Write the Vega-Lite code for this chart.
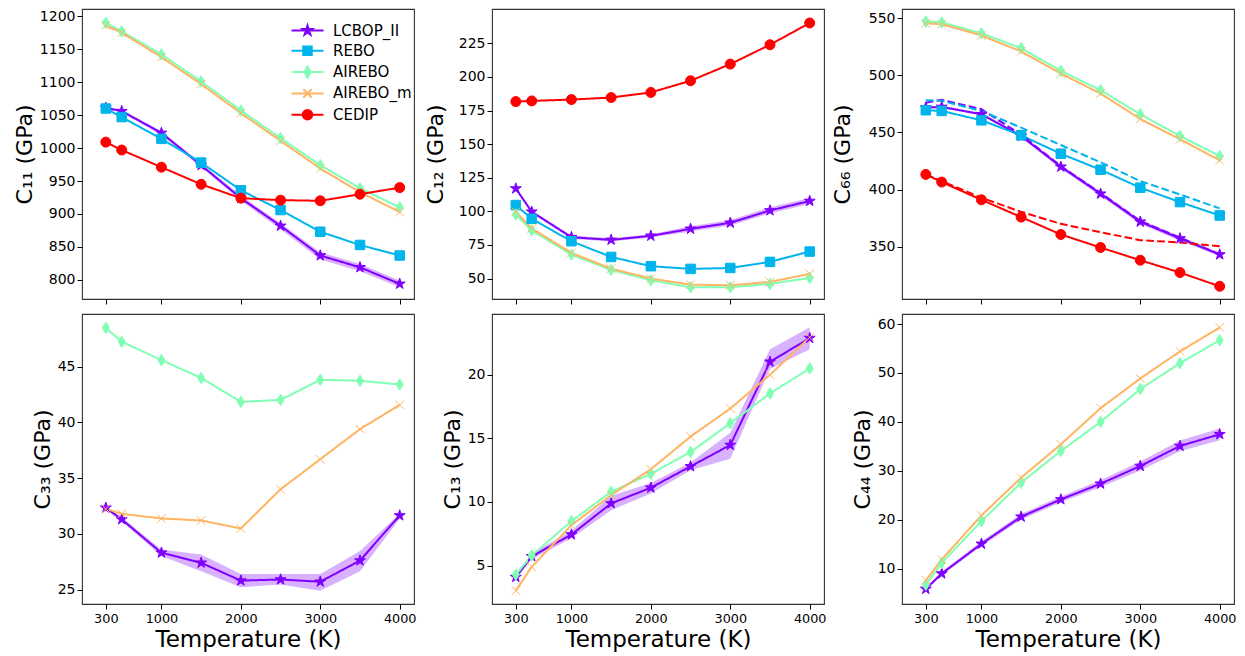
{
"$schema": "https://vega.github.io/schema/vega-lite/v6.json",
"background": "white",
"padding": {"left": 12, "top": 8, "right": 5, "bottom": 5},
"bounds": "flush",
"columns": 3,
"spacing": {"row": 15, "column": 78},
"config": {
  "font": "DejaVu Sans",
  "view": {"stroke": "#333", "strokeWidth": 1.1},
  "axis": {"domain": false, "grid": false, "tickColor": "#000", "tickSize": 5, "labelFontSize": 14, "labelColor": "#000", "labelFont": "DejaVu Sans", "titleFont": "DejaVu Sans", "titleFontWeight": "normal", "titleFontSize": 22, "titleColor": "#000", "labelPadding": 3, "format": "d"},
  "axisX": {"labelFontSize": 12.8},
  "axisY": {"labelPadding": 2}
},
"data": {"values": [
{"p":"C11","s":"LCBOP_II","d":"solid","T":300,"v":1061,"lo":1059,"hi":1063},
{"p":"C11","s":"LCBOP_II","d":"solid","T":500,"v":1056,"lo":1054,"hi":1058},
{"p":"C11","s":"LCBOP_II","d":"solid","T":1000,"v":1023,"lo":1020,"hi":1026},
{"p":"C11","s":"LCBOP_II","d":"solid","T":1500,"v":974,"lo":971,"hi":977},
{"p":"C11","s":"LCBOP_II","d":"solid","T":2000,"v":924,"lo":920,"hi":928},
{"p":"C11","s":"LCBOP_II","d":"solid","T":2500,"v":882,"lo":877,"hi":886},
{"p":"C11","s":"LCBOP_II","d":"solid","T":3000,"v":837,"lo":831,"hi":842},
{"p":"C11","s":"LCBOP_II","d":"solid","T":3500,"v":819,"lo":813,"hi":824},
{"p":"C11","s":"LCBOP_II","d":"solid","T":4000,"v":794,"lo":789,"hi":799},
{"p":"C11","s":"REBO","d":"solid","T":300,"v":1060},
{"p":"C11","s":"REBO","d":"solid","T":500,"v":1047},
{"p":"C11","s":"REBO","d":"solid","T":1000,"v":1014},
{"p":"C11","s":"REBO","d":"solid","T":1500,"v":978},
{"p":"C11","s":"REBO","d":"solid","T":2000,"v":936},
{"p":"C11","s":"REBO","d":"solid","T":2500,"v":906},
{"p":"C11","s":"REBO","d":"solid","T":3000,"v":873},
{"p":"C11","s":"REBO","d":"solid","T":3500,"v":853},
{"p":"C11","s":"REBO","d":"solid","T":4000,"v":837},
{"p":"C11","s":"AIREBO","d":"solid","T":300,"v":1190},
{"p":"C11","s":"AIREBO","d":"solid","T":500,"v":1177},
{"p":"C11","s":"AIREBO","d":"solid","T":1000,"v":1142},
{"p":"C11","s":"AIREBO","d":"solid","T":1500,"v":1101},
{"p":"C11","s":"AIREBO","d":"solid","T":2000,"v":1057},
{"p":"C11","s":"AIREBO","d":"solid","T":2500,"v":1015},
{"p":"C11","s":"AIREBO","d":"solid","T":3000,"v":974},
{"p":"C11","s":"AIREBO","d":"solid","T":3500,"v":939},
{"p":"C11","s":"AIREBO","d":"solid","T":4000,"v":910},
{"p":"C11","s":"AIREBO_m","d":"solid","T":300,"v":1186},
{"p":"C11","s":"AIREBO_m","d":"solid","T":500,"v":1175},
{"p":"C11","s":"AIREBO_m","d":"solid","T":1000,"v":1138},
{"p":"C11","s":"AIREBO_m","d":"solid","T":1500,"v":1097},
{"p":"C11","s":"AIREBO_m","d":"solid","T":2000,"v":1053},
{"p":"C11","s":"AIREBO_m","d":"solid","T":2500,"v":1011},
{"p":"C11","s":"AIREBO_m","d":"solid","T":3000,"v":969},
{"p":"C11","s":"AIREBO_m","d":"solid","T":3500,"v":933},
{"p":"C11","s":"AIREBO_m","d":"solid","T":4000,"v":903},
{"p":"C11","s":"CEDIP","d":"solid","T":300,"v":1009},
{"p":"C11","s":"CEDIP","d":"solid","T":500,"v":997},
{"p":"C11","s":"CEDIP","d":"solid","T":1000,"v":971},
{"p":"C11","s":"CEDIP","d":"solid","T":1500,"v":945},
{"p":"C11","s":"CEDIP","d":"solid","T":2000,"v":924},
{"p":"C11","s":"CEDIP","d":"solid","T":2500,"v":921},
{"p":"C11","s":"CEDIP","d":"solid","T":3000,"v":920},
{"p":"C11","s":"CEDIP","d":"solid","T":3500,"v":930},
{"p":"C11","s":"CEDIP","d":"solid","T":4000,"v":940},

{"p":"C12","s":"LCBOP_II","d":"solid","T":300,"v":117,"lo":116,"hi":118},
{"p":"C12","s":"LCBOP_II","d":"solid","T":500,"v":99.7,"lo":98.7,"hi":100.7},
{"p":"C12","s":"LCBOP_II","d":"solid","T":1000,"v":80.8,"lo":79.5,"hi":82},
{"p":"C12","s":"LCBOP_II","d":"solid","T":1500,"v":78.8,"lo":77.5,"hi":80},
{"p":"C12","s":"LCBOP_II","d":"solid","T":2000,"v":81.8,"lo":80.5,"hi":83},
{"p":"C12","s":"LCBOP_II","d":"solid","T":2500,"v":87,"lo":85,"hi":89},
{"p":"C12","s":"LCBOP_II","d":"solid","T":3000,"v":91.5,"lo":89.5,"hi":93.5},
{"p":"C12","s":"LCBOP_II","d":"solid","T":3500,"v":100.7,"lo":98.5,"hi":103},
{"p":"C12","s":"LCBOP_II","d":"solid","T":4000,"v":107.7,"lo":105.5,"hi":110},
{"p":"C12","s":"REBO","d":"solid","T":300,"v":104.7},
{"p":"C12","s":"REBO","d":"solid","T":500,"v":94.5},
{"p":"C12","s":"REBO","d":"solid","T":1000,"v":77.8},
{"p":"C12","s":"REBO","d":"solid","T":1500,"v":66.1},
{"p":"C12","s":"REBO","d":"solid","T":2000,"v":59.2},
{"p":"C12","s":"REBO","d":"solid","T":2500,"v":57.2},
{"p":"C12","s":"REBO","d":"solid","T":3000,"v":57.9},
{"p":"C12","s":"REBO","d":"solid","T":3500,"v":62.4},
{"p":"C12","s":"REBO","d":"solid","T":4000,"v":70.1},
{"p":"C12","s":"AIREBO","d":"solid","T":300,"v":97.7},
{"p":"C12","s":"AIREBO","d":"solid","T":500,"v":85.8},
{"p":"C12","s":"AIREBO","d":"solid","T":1000,"v":67.9},
{"p":"C12","s":"AIREBO","d":"solid","T":1500,"v":56.4},
{"p":"C12","s":"AIREBO","d":"solid","T":2000,"v":48.7},
{"p":"C12","s":"AIREBO","d":"solid","T":2500,"v":43.5},
{"p":"C12","s":"AIREBO","d":"solid","T":3000,"v":43.5},
{"p":"C12","s":"AIREBO","d":"solid","T":3500,"v":46},
{"p":"C12","s":"AIREBO","d":"solid","T":4000,"v":50.5},
{"p":"C12","s":"AIREBO_m","d":"solid","T":300,"v":99.7},
{"p":"C12","s":"AIREBO_m","d":"solid","T":500,"v":87.3},
{"p":"C12","s":"AIREBO_m","d":"solid","T":1000,"v":69.1},
{"p":"C12","s":"AIREBO_m","d":"solid","T":1500,"v":57.4},
{"p":"C12","s":"AIREBO_m","d":"solid","T":2000,"v":50},
{"p":"C12","s":"AIREBO_m","d":"solid","T":2500,"v":45.5},
{"p":"C12","s":"AIREBO_m","d":"solid","T":3000,"v":45},
{"p":"C12","s":"AIREBO_m","d":"solid","T":3500,"v":47.5},
{"p":"C12","s":"AIREBO_m","d":"solid","T":4000,"v":53.5},
{"p":"C12","s":"CEDIP","d":"solid","T":300,"v":181.7},
{"p":"C12","s":"CEDIP","d":"solid","T":500,"v":182.2},
{"p":"C12","s":"CEDIP","d":"solid","T":1000,"v":183.2},
{"p":"C12","s":"CEDIP","d":"solid","T":1500,"v":184.7},
{"p":"C12","s":"CEDIP","d":"solid","T":2000,"v":188.5},
{"p":"C12","s":"CEDIP","d":"solid","T":2500,"v":197.2},
{"p":"C12","s":"CEDIP","d":"solid","T":3000,"v":209.6},
{"p":"C12","s":"CEDIP","d":"solid","T":3500,"v":224},
{"p":"C12","s":"CEDIP","d":"solid","T":4000,"v":240.2},

{"p":"C66","s":"LCBOP_II","d":"solid","T":300,"v":471.7,"lo":470.7,"hi":472.7},
{"p":"C66","s":"LCBOP_II","d":"solid","T":500,"v":472.3,"lo":471.3,"hi":473.3},
{"p":"C66","s":"LCBOP_II","d":"solid","T":1000,"v":465.9,"lo":464.9,"hi":466.9},
{"p":"C66","s":"LCBOP_II","d":"solid","T":1500,"v":446.9,"lo":445.4,"hi":448.4},
{"p":"C66","s":"LCBOP_II","d":"solid","T":2000,"v":420,"lo":418.5,"hi":421.5},
{"p":"C66","s":"LCBOP_II","d":"solid","T":2500,"v":396.4,"lo":394.4,"hi":398.4},
{"p":"C66","s":"LCBOP_II","d":"solid","T":3000,"v":371.9,"lo":369.9,"hi":373.9},
{"p":"C66","s":"LCBOP_II","d":"solid","T":3500,"v":357.3,"lo":355.3,"hi":359.3},
{"p":"C66","s":"LCBOP_II","d":"solid","T":4000,"v":343.3,"lo":341.8,"hi":344.8},
{"p":"C66","s":"REBO","d":"solid","T":300,"v":469.4},
{"p":"C66","s":"REBO","d":"solid","T":500,"v":468.8},
{"p":"C66","s":"REBO","d":"solid","T":1000,"v":460.6},
{"p":"C66","s":"REBO","d":"solid","T":1500,"v":447.5},
{"p":"C66","s":"REBO","d":"solid","T":2000,"v":431.4},
{"p":"C66","s":"REBO","d":"solid","T":2500,"v":417.4},
{"p":"C66","s":"REBO","d":"solid","T":3000,"v":401.7},
{"p":"C66","s":"REBO","d":"solid","T":3500,"v":389.1},
{"p":"C66","s":"REBO","d":"solid","T":4000,"v":377.4},
{"p":"C66","s":"AIREBO","d":"solid","T":300,"v":547},
{"p":"C66","s":"AIREBO","d":"solid","T":500,"v":546.2},
{"p":"C66","s":"AIREBO","d":"solid","T":1000,"v":536.6},
{"p":"C66","s":"AIREBO","d":"solid","T":1500,"v":523.7},
{"p":"C66","s":"AIREBO","d":"solid","T":2000,"v":503.9},
{"p":"C66","s":"AIREBO","d":"solid","T":2500,"v":486.9},
{"p":"C66","s":"AIREBO","d":"solid","T":3000,"v":465.9},
{"p":"C66","s":"AIREBO","d":"solid","T":3500,"v":446.9},
{"p":"C66","s":"AIREBO","d":"solid","T":4000,"v":429.4},
{"p":"C66","s":"AIREBO_m","d":"solid","T":300,"v":545.3},
{"p":"C66","s":"AIREBO_m","d":"solid","T":500,"v":544.7},
{"p":"C66","s":"AIREBO_m","d":"solid","T":1000,"v":534.8},
{"p":"C66","s":"AIREBO_m","d":"solid","T":1500,"v":520.8},
{"p":"C66","s":"AIREBO_m","d":"solid","T":2000,"v":501.5},
{"p":"C66","s":"AIREBO_m","d":"solid","T":2500,"v":484},
{"p":"C66","s":"AIREBO_m","d":"solid","T":3000,"v":461.8},
{"p":"C66","s":"AIREBO_m","d":"solid","T":3500,"v":444},
{"p":"C66","s":"AIREBO_m","d":"solid","T":4000,"v":425.6},
{"p":"C66","s":"CEDIP","d":"solid","T":300,"v":413.3},
{"p":"C66","s":"CEDIP","d":"solid","T":500,"v":406.6},
{"p":"C66","s":"CEDIP","d":"solid","T":1000,"v":391.1},
{"p":"C66","s":"CEDIP","d":"solid","T":1500,"v":376},
{"p":"C66","s":"CEDIP","d":"solid","T":2000,"v":360.8},
{"p":"C66","s":"CEDIP","d":"solid","T":2500,"v":349.4},
{"p":"C66","s":"CEDIP","d":"solid","T":3000,"v":338.3},
{"p":"C66","s":"CEDIP","d":"solid","T":3500,"v":327.5},
{"p":"C66","s":"CEDIP","d":"solid","T":4000,"v":315.5},
{"p":"C66","s":"LCBOP_II","d":"dashed","T":300,"v":476},
{"p":"C66","s":"LCBOP_II","d":"dashed","T":500,"v":478.5},
{"p":"C66","s":"LCBOP_II","d":"dashed","T":1000,"v":470.3},
{"p":"C66","s":"LCBOP_II","d":"dashed","T":1500,"v":448},
{"p":"C66","s":"LCBOP_II","d":"dashed","T":2000,"v":420.5},
{"p":"C66","s":"LCBOP_II","d":"dashed","T":2500,"v":397},
{"p":"C66","s":"LCBOP_II","d":"dashed","T":3000,"v":372.5},
{"p":"C66","s":"LCBOP_II","d":"dashed","T":3500,"v":358},
{"p":"C66","s":"LCBOP_II","d":"dashed","T":4000,"v":343.5},
{"p":"C66","s":"REBO","d":"dashed","T":300,"v":478.2},
{"p":"C66","s":"REBO","d":"dashed","T":500,"v":477.6},
{"p":"C66","s":"REBO","d":"dashed","T":1000,"v":468.8},
{"p":"C66","s":"REBO","d":"dashed","T":1500,"v":454.2},
{"p":"C66","s":"REBO","d":"dashed","T":2000,"v":439},
{"p":"C66","s":"REBO","d":"dashed","T":2500,"v":423.9},
{"p":"C66","s":"REBO","d":"dashed","T":3000,"v":407.5},
{"p":"C66","s":"REBO","d":"dashed","T":3500,"v":395.8},
{"p":"C66","s":"REBO","d":"dashed","T":4000,"v":383.6},
{"p":"C66","s":"CEDIP","d":"dashed","T":300,"v":413.3},
{"p":"C66","s":"CEDIP","d":"dashed","T":500,"v":407.5},
{"p":"C66","s":"CEDIP","d":"dashed","T":1000,"v":392.9},
{"p":"C66","s":"CEDIP","d":"dashed","T":1500,"v":380.6},
{"p":"C66","s":"CEDIP","d":"dashed","T":2000,"v":370.1},
{"p":"C66","s":"CEDIP","d":"dashed","T":2500,"v":362.8},
{"p":"C66","s":"CEDIP","d":"dashed","T":3000,"v":355.8},
{"p":"C66","s":"CEDIP","d":"dashed","T":3500,"v":353.8},
{"p":"C66","s":"CEDIP","d":"dashed","T":4000,"v":350.6},

{"p":"C33","s":"LCBOP_II","d":"solid","T":300,"v":32.34,"lo":32.2,"hi":32.5},
{"p":"C33","s":"LCBOP_II","d":"solid","T":500,"v":31.3,"lo":31.1,"hi":31.5},
{"p":"C33","s":"LCBOP_II","d":"solid","T":1000,"v":28.3,"lo":28.0,"hi":28.6},
{"p":"C33","s":"LCBOP_II","d":"solid","T":1500,"v":27.4,"lo":26.65,"hi":28.15},
{"p":"C33","s":"LCBOP_II","d":"solid","T":2000,"v":25.8,"lo":25.2,"hi":26.4},
{"p":"C33","s":"LCBOP_II","d":"solid","T":2500,"v":25.9,"lo":25.45,"hi":26.4},
{"p":"C33","s":"LCBOP_II","d":"solid","T":3000,"v":25.7,"lo":24.9,"hi":26.4},
{"p":"C33","s":"LCBOP_II","d":"solid","T":3500,"v":27.6,"lo":26.65,"hi":28.45},
{"p":"C33","s":"LCBOP_II","d":"solid","T":4000,"v":31.65,"lo":31.35,"hi":31.8},
{"p":"C33","s":"AIREBO","d":"solid","T":300,"v":48.5},
{"p":"C33","s":"AIREBO","d":"solid","T":500,"v":47.25},
{"p":"C33","s":"AIREBO","d":"solid","T":1000,"v":45.6},
{"p":"C33","s":"AIREBO","d":"solid","T":1500,"v":44.0},
{"p":"C33","s":"AIREBO","d":"solid","T":2000,"v":41.85},
{"p":"C33","s":"AIREBO","d":"solid","T":2500,"v":42.03},
{"p":"C33","s":"AIREBO","d":"solid","T":3000,"v":43.83},
{"p":"C33","s":"AIREBO","d":"solid","T":3500,"v":43.74},
{"p":"C33","s":"AIREBO","d":"solid","T":4000,"v":43.41},
{"p":"C33","s":"AIREBO_m","d":"solid","T":300,"v":32.25},
{"p":"C33","s":"AIREBO_m","d":"solid","T":500,"v":31.8},
{"p":"C33","s":"AIREBO_m","d":"solid","T":1000,"v":31.38},
{"p":"C33","s":"AIREBO_m","d":"solid","T":1500,"v":31.2},
{"p":"C33","s":"AIREBO_m","d":"solid","T":2000,"v":30.48},
{"p":"C33","s":"AIREBO_m","d":"solid","T":2500,"v":34.0},
{"p":"C33","s":"AIREBO_m","d":"solid","T":3000,"v":36.7},
{"p":"C33","s":"AIREBO_m","d":"solid","T":3500,"v":39.4},
{"p":"C33","s":"AIREBO_m","d":"solid","T":4000,"v":41.58},

{"p":"C13","s":"LCBOP_II","d":"solid","T":300,"v":4.1,"lo":3.9,"hi":4.3},
{"p":"C13","s":"LCBOP_II","d":"solid","T":500,"v":5.73,"lo":5.5,"hi":5.95},
{"p":"C13","s":"LCBOP_II","d":"solid","T":1000,"v":7.44,"lo":7.15,"hi":7.75},
{"p":"C13","s":"LCBOP_II","d":"solid","T":1500,"v":9.89,"lo":9.36,"hi":10.5},
{"p":"C13","s":"LCBOP_II","d":"solid","T":2000,"v":11.12,"lo":10.67,"hi":11.5},
{"p":"C13","s":"LCBOP_II","d":"solid","T":2500,"v":12.8,"lo":12.5,"hi":13.1},
{"p":"C13","s":"LCBOP_II","d":"solid","T":3000,"v":14.48,"lo":13.4,"hi":15.45},
{"p":"C13","s":"LCBOP_II","d":"solid","T":3500,"v":21.02,"lo":20.45,"hi":22.0},
{"p":"C13","s":"LCBOP_II","d":"solid","T":4000,"v":22.89,"lo":22.0,"hi":23.73},
{"p":"C13","s":"AIREBO","d":"solid","T":300,"v":4.29},
{"p":"C13","s":"AIREBO","d":"solid","T":500,"v":5.79},
{"p":"C13","s":"AIREBO","d":"solid","T":1000,"v":8.49},
{"p":"C13","s":"AIREBO","d":"solid","T":1500,"v":10.8},
{"p":"C13","s":"AIREBO","d":"solid","T":2000,"v":12.22},
{"p":"C13","s":"AIREBO","d":"solid","T":2500,"v":13.93},
{"p":"C13","s":"AIREBO","d":"solid","T":3000,"v":16.19},
{"p":"C13","s":"AIREBO","d":"solid","T":3500,"v":18.53},
{"p":"C13","s":"AIREBO","d":"solid","T":4000,"v":20.5},
{"p":"C13","s":"AIREBO_m","d":"solid","T":300,"v":3.03},
{"p":"C13","s":"AIREBO_m","d":"solid","T":500,"v":4.9},
{"p":"C13","s":"AIREBO_m","d":"solid","T":1000,"v":8.18},
{"p":"C13","s":"AIREBO_m","d":"solid","T":1500,"v":10.54},
{"p":"C13","s":"AIREBO_m","d":"solid","T":2000,"v":12.57},
{"p":"C13","s":"AIREBO_m","d":"solid","T":2500,"v":15.14},
{"p":"C13","s":"AIREBO_m","d":"solid","T":3000,"v":17.35},
{"p":"C13","s":"AIREBO_m","d":"solid","T":3500,"v":20.0},
{"p":"C13","s":"AIREBO_m","d":"solid","T":4000,"v":22.94},

{"p":"C44","s":"LCBOP_II","d":"solid","T":300,"v":5.84,"lo":5.54,"hi":6.14},
{"p":"C44","s":"LCBOP_II","d":"solid","T":500,"v":8.98,"lo":8.58,"hi":9.38},
{"p":"C44","s":"LCBOP_II","d":"solid","T":1000,"v":15.06,"lo":14.56,"hi":15.56},
{"p":"C44","s":"LCBOP_II","d":"solid","T":1500,"v":20.6,"lo":20.0,"hi":21.2},
{"p":"C44","s":"LCBOP_II","d":"solid","T":2000,"v":24.14,"lo":23.54,"hi":24.74},
{"p":"C44","s":"LCBOP_II","d":"solid","T":2500,"v":27.35,"lo":26.65,"hi":28.05},
{"p":"C44","s":"LCBOP_II","d":"solid","T":3000,"v":30.97,"lo":30.07,"hi":31.87},
{"p":"C44","s":"LCBOP_II","d":"solid","T":3500,"v":35.07,"lo":33.97,"hi":36.17},
{"p":"C44","s":"LCBOP_II","d":"solid","T":4000,"v":37.46,"lo":36.26,"hi":38.66},
{"p":"C44","s":"AIREBO","d":"solid","T":300,"v":6.7},
{"p":"C44","s":"AIREBO","d":"solid","T":500,"v":11.16},
{"p":"C44","s":"AIREBO","d":"solid","T":1000,"v":19.7},
{"p":"C44","s":"AIREBO","d":"solid","T":1500,"v":27.56},
{"p":"C44","s":"AIREBO","d":"solid","T":2000,"v":34.05},
{"p":"C44","s":"AIREBO","d":"solid","T":2500,"v":39.99},
{"p":"C44","s":"AIREBO","d":"solid","T":3000,"v":46.7},
{"p":"C44","s":"AIREBO","d":"solid","T":3500,"v":52.0},
{"p":"C44","s":"AIREBO","d":"solid","T":4000,"v":56.7},
{"p":"C44","s":"AIREBO_m","d":"solid","T":300,"v":7.6},
{"p":"C44","s":"AIREBO_m","d":"solid","T":500,"v":11.85},
{"p":"C44","s":"AIREBO_m","d":"solid","T":1000,"v":20.86},
{"p":"C44","s":"AIREBO_m","d":"solid","T":1500,"v":28.58},
{"p":"C44","s":"AIREBO_m","d":"solid","T":2000,"v":35.4},
{"p":"C44","s":"AIREBO_m","d":"solid","T":2500,"v":42.8},
{"p":"C44","s":"AIREBO_m","d":"solid","T":3000,"v":48.87},
{"p":"C44","s":"AIREBO_m","d":"solid","T":3500,"v":54.4},
{"p":"C44","s":"AIREBO_m","d":"solid","T":4000,"v":59.3}
]},
"concat": [
{
 "width": 332, "height": 290,
 "transform": [{"filter": "datum.p === 'C11'"}],
 "encoding": {
   "x": {"field": "T", "type": "quantitative", "scale": {"domain": [0, 4180], "nice": false, "zero": false}, "axis": {"values": [300, 1000, 2000, 3000, 4000], "labels": false, "title": null}},
   "y": {"field": "v", "type": "quantitative", "scale": {"domain": [771, 1211], "nice": false, "zero": false}, "axis": {"values": [800, 850, 900, 950, 1000, 1050, 1100, 1150, 1200], "title": "C₁₁ (GPa)", "titleX": -46}}
 },
 "layer": [
   {"transform": [{"filter": "isValid(datum.lo)"}], "mark": {"type": "area", "color": "#8000ff", "opacity": 0.3}, "encoding": {"y": {"field": "lo", "type": "quantitative"}, "y2": {"field": "hi"}}},
   {"mark": {"type": "line", "strokeWidth": 2}, "encoding": {
     "color": {"field": "s", "type": "nominal", "scale": {"domain": ["LCBOP_II", "REBO", "AIREBO", "AIREBO_m", "CEDIP"], "range": ["#8000ff", "#00b4ec", "#80ffb4", "#ffb462", "#ff0000"]}, "legend": null},
     "strokeDash": {"field": "d", "type": "nominal", "scale": {"domain": ["solid", "dashed"], "range": [[1, 0], [7.7, 3.3]]}, "legend": null}}},
   {"transform": [{"filter": "datum.d === 'solid'"}], "mark": {"type": "point", "filled": true, "size": 100, "opacity": 1}, "encoding": {
     "color": {"field": "s", "type": "nominal", "scale": {"domain": ["LCBOP_II", "REBO", "AIREBO", "AIREBO_m", "CEDIP"], "range": ["#8000ff", "#00b4ec", "#80ffb4", "#ffb462", "#ff0000"]}, "legend": null},
     "stroke": {"field": "s", "type": "nominal", "scale": {"domain": ["LCBOP_II", "REBO", "AIREBO", "AIREBO_m", "CEDIP"], "range": ["#8000ff", "#00b4ec", "#80ffb4", "#ffb462", "#ff0000"]}, "legend": null},
     "strokeWidth": {"field": "s", "type": "nominal", "scale": {"domain": ["LCBOP_II", "REBO", "AIREBO", "AIREBO_m", "CEDIP"], "range": [1, 1, 1, 1.6, 1]}, "legend": null},
     "shape": {"field": "s", "type": "nominal", "scale": {"domain": ["LCBOP_II", "REBO", "AIREBO", "AIREBO_m", "CEDIP"], "range": ["M0,-1.15L0.259,-0.356L1.094,-0.355L0.418,0.136L0.676,0.93L0,0.44L-0.676,0.93L-0.418,0.136L-1.094,-0.355L-0.259,-0.356Z", "M-0.95,-0.95H0.95V0.95H-0.95Z", "M0,-1.15L0.7,0L0,1.15L-0.7,0Z", "M-0.85,-0.85L0.85,0.85M-0.85,0.85L0.85,-0.85", "circle"]}, "legend": null}}},
   {"transform": [{"filter": "datum.d === 'solid'"}], "mark": {"type": "point", "filled": true, "size": 100, "opacity": 0}, "encoding": {
     "shape": {"field": "s", "type": "nominal", "scale": {"domain": ["LCBOP_II", "REBO", "AIREBO", "AIREBO_m", "CEDIP"], "range": ["M-3.2,0H3.2M0,-1.0L0.225,-0.309L0.951,-0.309L0.363,0.118L0.588,0.809L0,0.382L-0.588,0.809L-0.363,0.118L-0.951,-0.309L-0.225,-0.309Z", "M-3.2,0H3.2M-0.85,-0.85H0.85V0.85H-0.85Z", "M-3.2,0H3.2M0,-1.1L0.62,0L0,1.1L-0.62,0Z", "M-3.2,0H3.2M-0.85,-0.85L0.85,0.85M-0.85,0.85L0.85,-0.85", "M-3.2,0H3.2M0.95,0A0.95,0.95,0,1,1,-0.95,0A0.95,0.95,0,1,1,0.95,0Z"]},
       "legend": {"orient": "none", "legendX": 218, "legendY": 14, "title": null, "labelFontSize": 15, "labelFont": "DejaVu Sans", "labelColor": "#000", "rowPadding": 3.3, "labelOffset": 18, "symbolStrokeWidth": 2, "symbolOpacity": 1, "padding": 0, "symbolSize": 100}},
     "fill": {"field": "s", "type": "nominal", "scale": {"domain": ["LCBOP_II", "REBO", "AIREBO", "AIREBO_m", "CEDIP"], "range": ["#8000ff", "#00b4ec", "#80ffb4", "#ffb462", "#ff0000"]},
       "legend": {"orient": "none", "legendX": 218, "legendY": 14, "title": null, "labelFontSize": 15, "labelFont": "DejaVu Sans", "labelColor": "#000", "rowPadding": 3.3, "labelOffset": 18, "symbolStrokeWidth": 2, "symbolOpacity": 1, "padding": 0, "symbolSize": 100}},
     "stroke": {"field": "s", "type": "nominal", "scale": {"domain": ["LCBOP_II", "REBO", "AIREBO", "AIREBO_m", "CEDIP"], "range": ["#8000ff", "#00b4ec", "#80ffb4", "#ffb462", "#ff0000"]},
       "legend": {"orient": "none", "legendX": 218, "legendY": 14, "title": null, "labelFontSize": 15, "labelFont": "DejaVu Sans", "labelColor": "#000", "rowPadding": 3.3, "labelOffset": 18, "symbolStrokeWidth": 2, "symbolOpacity": 1, "padding": 0, "symbolSize": 100}}}}
 ],
 "resolve": {"scale": {"shape": "independent", "fill": "independent", "stroke": "independent"}}
},
{
 "width": 332, "height": 290,
 "transform": [{"filter": "datum.p === 'C12'"}],
 "encoding": {
   "x": {"field": "T", "type": "quantitative", "scale": {"domain": [0, 4180], "nice": false, "zero": false}, "axis": {"values": [300, 1000, 2000, 3000, 4000], "labels": false, "title": null}},
   "y": {"field": "v", "type": "quantitative", "scale": {"domain": [34.8, 250.6], "nice": false, "zero": false}, "axis": {"values": [50, 75, 100, 125, 150, 175, 200, 225], "title": "C₁₂ (GPa)", "titleX": -45}}
 },
 "layer": [
   {"transform": [{"filter": "isValid(datum.lo)"}], "mark": {"type": "area", "color": "#8000ff", "opacity": 0.3}, "encoding": {"y": {"field": "lo", "type": "quantitative"}, "y2": {"field": "hi"}}},
   {"mark": {"type": "line", "strokeWidth": 2}, "encoding": {
     "color": {"field": "s", "type": "nominal", "scale": {"domain": ["LCBOP_II", "REBO", "AIREBO", "AIREBO_m", "CEDIP"], "range": ["#8000ff", "#00b4ec", "#80ffb4", "#ffb462", "#ff0000"]}, "legend": null},
     "strokeDash": {"field": "d", "type": "nominal", "scale": {"domain": ["solid", "dashed"], "range": [[1, 0], [7.7, 3.3]]}, "legend": null}}},
   {"transform": [{"filter": "datum.d === 'solid'"}], "mark": {"type": "point", "filled": true, "size": 100, "opacity": 1}, "encoding": {
     "color": {"field": "s", "type": "nominal", "scale": {"domain": ["LCBOP_II", "REBO", "AIREBO", "AIREBO_m", "CEDIP"], "range": ["#8000ff", "#00b4ec", "#80ffb4", "#ffb462", "#ff0000"]}, "legend": null},
     "stroke": {"field": "s", "type": "nominal", "scale": {"domain": ["LCBOP_II", "REBO", "AIREBO", "AIREBO_m", "CEDIP"], "range": ["#8000ff", "#00b4ec", "#80ffb4", "#ffb462", "#ff0000"]}, "legend": null},
     "strokeWidth": {"field": "s", "type": "nominal", "scale": {"domain": ["LCBOP_II", "REBO", "AIREBO", "AIREBO_m", "CEDIP"], "range": [1, 1, 1, 1.6, 1]}, "legend": null},
     "shape": {"field": "s", "type": "nominal", "scale": {"domain": ["LCBOP_II", "REBO", "AIREBO", "AIREBO_m", "CEDIP"], "range": ["M0,-1.15L0.259,-0.356L1.094,-0.355L0.418,0.136L0.676,0.93L0,0.44L-0.676,0.93L-0.418,0.136L-1.094,-0.355L-0.259,-0.356Z", "M-0.95,-0.95H0.95V0.95H-0.95Z", "M0,-1.15L0.7,0L0,1.15L-0.7,0Z", "M-0.85,-0.85L0.85,0.85M-0.85,0.85L0.85,-0.85", "circle"]}, "legend": null}}}
 ]
},
{
 "width": 332, "height": 290,
 "transform": [{"filter": "datum.p === 'C66'"}],
 "encoding": {
   "x": {"field": "T", "type": "quantitative", "scale": {"domain": [0, 4180], "nice": false, "zero": false}, "axis": {"values": [300, 1000, 2000, 3000, 4000], "labels": false, "title": null}},
   "y": {"field": "v", "type": "quantitative", "scale": {"domain": [304.4, 557.9], "nice": false, "zero": false}, "axis": {"values": [350, 400, 450, 500, 550], "title": "C₆₆ (GPa)", "titleX": -48}}
 },
 "layer": [
   {"transform": [{"filter": "isValid(datum.lo)"}], "mark": {"type": "area", "color": "#8000ff", "opacity": 0.3}, "encoding": {"y": {"field": "lo", "type": "quantitative"}, "y2": {"field": "hi"}}},
   {"mark": {"type": "line", "strokeWidth": 2}, "encoding": {
     "color": {"field": "s", "type": "nominal", "scale": {"domain": ["LCBOP_II", "REBO", "AIREBO", "AIREBO_m", "CEDIP"], "range": ["#8000ff", "#00b4ec", "#80ffb4", "#ffb462", "#ff0000"]}, "legend": null},
     "strokeDash": {"field": "d", "type": "nominal", "scale": {"domain": ["solid", "dashed"], "range": [[1, 0], [7.7, 3.3]]}, "legend": null}}},
   {"transform": [{"filter": "datum.d === 'solid'"}], "mark": {"type": "point", "filled": true, "size": 100, "opacity": 1}, "encoding": {
     "color": {"field": "s", "type": "nominal", "scale": {"domain": ["LCBOP_II", "REBO", "AIREBO", "AIREBO_m", "CEDIP"], "range": ["#8000ff", "#00b4ec", "#80ffb4", "#ffb462", "#ff0000"]}, "legend": null},
     "stroke": {"field": "s", "type": "nominal", "scale": {"domain": ["LCBOP_II", "REBO", "AIREBO", "AIREBO_m", "CEDIP"], "range": ["#8000ff", "#00b4ec", "#80ffb4", "#ffb462", "#ff0000"]}, "legend": null},
     "strokeWidth": {"field": "s", "type": "nominal", "scale": {"domain": ["LCBOP_II", "REBO", "AIREBO", "AIREBO_m", "CEDIP"], "range": [1, 1, 1, 1.6, 1]}, "legend": null},
     "shape": {"field": "s", "type": "nominal", "scale": {"domain": ["LCBOP_II", "REBO", "AIREBO", "AIREBO_m", "CEDIP"], "range": ["M0,-1.15L0.259,-0.356L1.094,-0.355L0.418,0.136L0.676,0.93L0,0.44L-0.676,0.93L-0.418,0.136L-1.094,-0.355L-0.259,-0.356Z", "M-0.95,-0.95H0.95V0.95H-0.95Z", "M0,-1.15L0.7,0L0,1.15L-0.7,0Z", "M-0.85,-0.85L0.85,0.85M-0.85,0.85L0.85,-0.85", "circle"]}, "legend": null}}}
 ]
},
{
 "width": 332, "height": 290,
 "transform": [{"filter": "datum.p === 'C33'"}],
 "encoding": {
   "x": {"field": "T", "type": "quantitative", "scale": {"domain": [0, 4180], "nice": false, "zero": false}, "axis": {"values": [300, 1000, 2000, 3000, 4000], "title": "Temperature (K)", "titleFontSize": 23, "titlePadding": 4}},
   "y": {"field": "v", "type": "quantitative", "scale": {"domain": [23.7, 49.74], "nice": false, "zero": false}, "axis": {"values": [25, 30, 35, 40, 45], "title": "C₃₃ (GPa)", "titleX": -28}}
 },
 "layer": [
   {"transform": [{"filter": "isValid(datum.lo)"}], "mark": {"type": "area", "color": "#8000ff", "opacity": 0.3}, "encoding": {"y": {"field": "lo", "type": "quantitative"}, "y2": {"field": "hi"}}},
   {"mark": {"type": "line", "strokeWidth": 2}, "encoding": {
     "color": {"field": "s", "type": "nominal", "scale": {"domain": ["LCBOP_II", "REBO", "AIREBO", "AIREBO_m", "CEDIP"], "range": ["#8000ff", "#00b4ec", "#80ffb4", "#ffb462", "#ff0000"]}, "legend": null},
     "strokeDash": {"field": "d", "type": "nominal", "scale": {"domain": ["solid", "dashed"], "range": [[1, 0], [7.7, 3.3]]}, "legend": null}}},
   {"transform": [{"filter": "datum.d === 'solid'"}], "mark": {"type": "point", "filled": true, "size": 100, "opacity": 1}, "encoding": {
     "color": {"field": "s", "type": "nominal", "scale": {"domain": ["LCBOP_II", "REBO", "AIREBO", "AIREBO_m", "CEDIP"], "range": ["#8000ff", "#00b4ec", "#80ffb4", "#ffb462", "#ff0000"]}, "legend": null},
     "stroke": {"field": "s", "type": "nominal", "scale": {"domain": ["LCBOP_II", "REBO", "AIREBO", "AIREBO_m", "CEDIP"], "range": ["#8000ff", "#00b4ec", "#80ffb4", "#ffb462", "#ff0000"]}, "legend": null},
     "strokeWidth": {"field": "s", "type": "nominal", "scale": {"domain": ["LCBOP_II", "REBO", "AIREBO", "AIREBO_m", "CEDIP"], "range": [1, 1, 1, 1.6, 1]}, "legend": null},
     "shape": {"field": "s", "type": "nominal", "scale": {"domain": ["LCBOP_II", "REBO", "AIREBO", "AIREBO_m", "CEDIP"], "range": ["M0,-1.15L0.259,-0.356L1.094,-0.355L0.418,0.136L0.676,0.93L0,0.44L-0.676,0.93L-0.418,0.136L-1.094,-0.355L-0.259,-0.356Z", "M-0.95,-0.95H0.95V0.95H-0.95Z", "M0,-1.15L0.7,0L0,1.15L-0.7,0Z", "M-0.85,-0.85L0.85,0.85M-0.85,0.85L0.85,-0.85", "circle"]}, "legend": null}}}
 ]
},
{
 "width": 332, "height": 290,
 "transform": [{"filter": "datum.p === 'C13'"}],
 "encoding": {
   "x": {"field": "T", "type": "quantitative", "scale": {"domain": [0, 4180], "nice": false, "zero": false}, "axis": {"values": [300, 1000, 2000, 3000, 4000], "title": "Temperature (K)", "titleFontSize": 23, "titlePadding": 4}},
   "y": {"field": "v", "type": "quantitative", "scale": {"domain": [1.98, 24.78], "nice": false, "zero": false}, "axis": {"values": [5, 10, 15, 20], "title": "C₁₃ (GPa)", "titleX": -28}}
 },
 "layer": [
   {"transform": [{"filter": "isValid(datum.lo)"}], "mark": {"type": "area", "color": "#8000ff", "opacity": 0.3}, "encoding": {"y": {"field": "lo", "type": "quantitative"}, "y2": {"field": "hi"}}},
   {"mark": {"type": "line", "strokeWidth": 2}, "encoding": {
     "color": {"field": "s", "type": "nominal", "scale": {"domain": ["LCBOP_II", "REBO", "AIREBO", "AIREBO_m", "CEDIP"], "range": ["#8000ff", "#00b4ec", "#80ffb4", "#ffb462", "#ff0000"]}, "legend": null},
     "strokeDash": {"field": "d", "type": "nominal", "scale": {"domain": ["solid", "dashed"], "range": [[1, 0], [7.7, 3.3]]}, "legend": null}}},
   {"transform": [{"filter": "datum.d === 'solid'"}], "mark": {"type": "point", "filled": true, "size": 100, "opacity": 1}, "encoding": {
     "color": {"field": "s", "type": "nominal", "scale": {"domain": ["LCBOP_II", "REBO", "AIREBO", "AIREBO_m", "CEDIP"], "range": ["#8000ff", "#00b4ec", "#80ffb4", "#ffb462", "#ff0000"]}, "legend": null},
     "stroke": {"field": "s", "type": "nominal", "scale": {"domain": ["LCBOP_II", "REBO", "AIREBO", "AIREBO_m", "CEDIP"], "range": ["#8000ff", "#00b4ec", "#80ffb4", "#ffb462", "#ff0000"]}, "legend": null},
     "strokeWidth": {"field": "s", "type": "nominal", "scale": {"domain": ["LCBOP_II", "REBO", "AIREBO", "AIREBO_m", "CEDIP"], "range": [1, 1, 1, 1.6, 1]}, "legend": null},
     "shape": {"field": "s", "type": "nominal", "scale": {"domain": ["LCBOP_II", "REBO", "AIREBO", "AIREBO_m", "CEDIP"], "range": ["M0,-1.15L0.259,-0.356L1.094,-0.355L0.418,0.136L0.676,0.93L0,0.44L-0.676,0.93L-0.418,0.136L-1.094,-0.355L-0.259,-0.356Z", "M-0.95,-0.95H0.95V0.95H-0.95Z", "M0,-1.15L0.7,0L0,1.15L-0.7,0Z", "M-0.85,-0.85L0.85,0.85M-0.85,0.85L0.85,-0.85", "circle"]}, "legend": null}}}
 ]
},
{
 "width": 332, "height": 290,
 "transform": [{"filter": "datum.p === 'C44'"}],
 "encoding": {
   "x": {"field": "T", "type": "quantitative", "scale": {"domain": [0, 4180], "nice": false, "zero": false}, "axis": {"values": [300, 1000, 2000, 3000, 4000], "title": "Temperature (K)", "titleFontSize": 23, "titlePadding": 4}},
   "y": {"field": "v", "type": "quantitative", "scale": {"domain": [2.76, 62.05], "nice": false, "zero": false}, "axis": {"values": [10, 20, 30, 40, 50, 60], "title": "C₄₄ (GPa)", "titleX": -28}}
 },
 "layer": [
   {"transform": [{"filter": "isValid(datum.lo)"}], "mark": {"type": "area", "color": "#8000ff", "opacity": 0.3}, "encoding": {"y": {"field": "lo", "type": "quantitative"}, "y2": {"field": "hi"}}},
   {"mark": {"type": "line", "strokeWidth": 2}, "encoding": {
     "color": {"field": "s", "type": "nominal", "scale": {"domain": ["LCBOP_II", "REBO", "AIREBO", "AIREBO_m", "CEDIP"], "range": ["#8000ff", "#00b4ec", "#80ffb4", "#ffb462", "#ff0000"]}, "legend": null},
     "strokeDash": {"field": "d", "type": "nominal", "scale": {"domain": ["solid", "dashed"], "range": [[1, 0], [7.7, 3.3]]}, "legend": null}}},
   {"transform": [{"filter": "datum.d === 'solid'"}], "mark": {"type": "point", "filled": true, "size": 100, "opacity": 1}, "encoding": {
     "color": {"field": "s", "type": "nominal", "scale": {"domain": ["LCBOP_II", "REBO", "AIREBO", "AIREBO_m", "CEDIP"], "range": ["#8000ff", "#00b4ec", "#80ffb4", "#ffb462", "#ff0000"]}, "legend": null},
     "stroke": {"field": "s", "type": "nominal", "scale": {"domain": ["LCBOP_II", "REBO", "AIREBO", "AIREBO_m", "CEDIP"], "range": ["#8000ff", "#00b4ec", "#80ffb4", "#ffb462", "#ff0000"]}, "legend": null},
     "strokeWidth": {"field": "s", "type": "nominal", "scale": {"domain": ["LCBOP_II", "REBO", "AIREBO", "AIREBO_m", "CEDIP"], "range": [1, 1, 1, 1.6, 1]}, "legend": null},
     "shape": {"field": "s", "type": "nominal", "scale": {"domain": ["LCBOP_II", "REBO", "AIREBO", "AIREBO_m", "CEDIP"], "range": ["M0,-1.15L0.259,-0.356L1.094,-0.355L0.418,0.136L0.676,0.93L0,0.44L-0.676,0.93L-0.418,0.136L-1.094,-0.355L-0.259,-0.356Z", "M-0.95,-0.95H0.95V0.95H-0.95Z", "M0,-1.15L0.7,0L0,1.15L-0.7,0Z", "M-0.85,-0.85L0.85,0.85M-0.85,0.85L0.85,-0.85", "circle"]}, "legend": null}}}
 ]
}
]
}
